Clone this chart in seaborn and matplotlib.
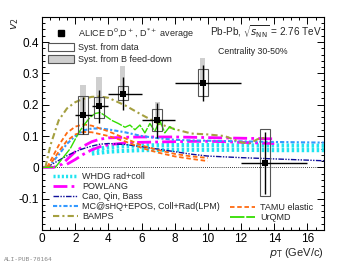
import numpy as np
import matplotlib
matplotlib.use("Agg")
import matplotlib.pyplot as plt
from matplotlib.lines import Line2D
from matplotlib.patches import Patch, Rectangle
import seaborn as sns

# ALICE D-meson average v2, Pb-Pb 30-50%
pt = [2.47, 3.45, 4.86, 6.95, 9.68, 13.47]
pt_lo = [2, 3, 4, 6, 8, 12]
pt_hi = [3, 4, 6, 8, 12, 16]
v2 = [0.166, 0.195, 0.235, 0.150, 0.270, 0.015]
stat = [0.060, 0.052, 0.053, 0.056, 0.058, 0.099]
syst_data_lo = [0.105, 0.158, 0.214, 0.115, 0.228, -0.093]
syst_data_hi = [0.227, 0.224, 0.259, 0.187, 0.314, 0.124]
syst_feed_hi = [0.263, 0.288, 0.325, 0.209, 0.350, 0.015]

# model curves
whdg_x = [3, 4, 5, 6, 8, 10, 12, 14, 17]
whdg_hi = [0.056, 0.064, 0.068, 0.070, 0.071, 0.071, 0.070, 0.070, 0.069]
whdg_lo = [0.044, 0.050, 0.053, 0.055, 0.056, 0.056, 0.056, 0.055, 0.055]

powlang1_x = [0, 0.7, 1.2, 1.6, 2, 2.5, 3, 3.5, 4, 5, 6, 7, 8, 9, 10, 11, 12, 13, 14]
powlang1_y = [0, 0, 0.010, 0.030, 0.050, 0.068, 0.082, 0.090, 0.094, 0.096, 0.097,
              0.097, 0.097, 0.096, 0.095, 0.094, 0.093, 0.092, 0.091]
powlang2_x = [1.5, 2, 2.5, 3, 3.5, 4, 5, 6, 7, 8, 9, 10, 11, 12, 13, 14]
powlang2_y = [0.010, 0.025, 0.042, 0.056, 0.066, 0.072, 0.078, 0.080, 0.081, 0.082,
              0.083, 0.083, 0.082, 0.080, 0.078, 0.076]

cao_x = [0.3, 0.6, 1, 1.5, 2, 2.5, 3, 3.5, 4, 5, 6, 7, 8, 9, 10, 12, 14, 17]
cao_y = [0, 0.010, 0.022, 0.037, 0.050, 0.060, 0.068, 0.074, 0.076, 0.073, 0.066,
         0.058, 0.050, 0.042, 0.036, 0.031, 0.027, 0.021]

mcshq_x = [0.3, 0.6, 1, 1.5, 2, 2.5, 3, 3.5, 4, 5, 6, 7, 8, 9, 10, 12, 14, 17]
mcshq_y = [0, 0.015, 0.040, 0.075, 0.100, 0.118, 0.124, 0.124, 0.121, 0.112, 0.100,
           0.093, 0.088, 0.086, 0.085, 0.083, 0.081, 0.079]

bamps_x = [0.2, 0.5, 1, 1.5, 2, 2.5, 3, 3.5, 4, 5, 6, 7, 8, 9, 10, 11, 11.5, 12,
           12.5, 13, 13.5]
bamps_y = [0, 0.070, 0.150, 0.188, 0.208, 0.219, 0.225, 0.226, 0.222, 0.198, 0.168,
           0.140, 0.122, 0.108, 0.105, 0.100, 0.090, 0.080, 0.076, 0.090, 0.095]

tamu1_x = [0.3, 0.5, 1, 1.5, 2, 2.5, 3, 4, 5, 6, 7, 8, 9, 10]
tamu1_y = [0, 0.020, 0.070, 0.110, 0.130, 0.137, 0.133, 0.115, 0.093, 0.070, 0.055,
           0.043, 0.035, 0.030]
tamu2_y = [0, 0.010, 0.050, 0.085, 0.105, 0.113, 0.112, 0.100, 0.083, 0.062, 0.047,
           0.035, 0.027, 0.020]

urqmd_x = [0, 0.8, 1.1, 1.7, 2.0, 2.3, 2.6, 2.9, 3.2, 3.5, 3.8, 4.2, 4.6, 5.0, 5.3,
           5.6, 5.9, 6.2, 6.5, 6.8, 7.1, 7.4, 7.7, 8.0]
urqmd_y = [0, 0, 0.020, 0.060, 0.090, 0.118, 0.140, 0.160, 0.172, 0.175, 0.165, 0.150,
           0.140, 0.128, 0.135, 0.120, 0.135, 0.110, 0.140, 0.115, 0.150, 0.110, 0.130,
           0.120]

C_WHDG = "#20e4f0"
C_POW = "#ff00ff"
C_CAO = "#10109a"
C_MC = "#3399ff"
C_BAMPS = "#a5a040"
C_TAMU = "#ff6a10"
C_URQMD = "#33dd00"

LS_POW = (0, (5, 1.5, 1, 1.5))
LS_CAO = (0, (4, 1, 1, 1, 1, 1))
LS_MC = (0, (2, 1, 1, 1))
LS_BAMPS = (0, (3, 1.5, 1, 1.5))
LS_TAMU = (0, (2.5, 1.5))
LS_URQMD = (0, (8, 1))

sns.set_theme(style="ticks")
plt.rcParams["font.family"] = ["Liberation Sans", "DejaVu Sans"]

fig = plt.figure(figsize=(3.45, 2.65), dpi=100)
ax = fig.add_axes([0.122, 0.132, 0.817, 0.804])

# systematic boxes: feed-down (grey, upward) and data (open)
for x, y, fh in zip(pt, v2, syst_feed_hi):
    if fh > y + 0.005:
        ax.add_patch(Rectangle((x - 0.17, y), 0.34, fh - y,
                               facecolor="#cfcfcf", edgecolor="none", zorder=1))
for x, lo, hi in zip(pt, syst_data_lo, syst_data_hi):
    ax.add_patch(Rectangle((x - 0.3, lo), 0.6, hi - lo, facecolor="none",
                           edgecolor="#555555", lw=0.8, zorder=4))

ax.axhline(0, color="black", lw=0.6, ls=(0, (1, 1.5)), zorder=0)

# model curves
for yy in (whdg_hi, whdg_lo):
    sns.lineplot(x=whdg_x, y=yy, ax=ax, color=C_WHDG, lw=3, linestyle=(0, (0.6, 0.6)),
                 sort=False, estimator=None, zorder=2)
sns.lineplot(x=powlang1_x, y=powlang1_y, ax=ax, color=C_POW, lw=2, linestyle=LS_POW,
             sort=False, estimator=None, zorder=2)
sns.lineplot(x=powlang2_x, y=powlang2_y, ax=ax, color=C_POW, lw=2, linestyle=LS_POW,
             sort=False, estimator=None, zorder=2)
sns.lineplot(x=cao_x, y=cao_y, ax=ax, color=C_CAO, lw=1, linestyle=LS_CAO,
             sort=False, estimator=None, zorder=2)
sns.lineplot(x=mcshq_x, y=mcshq_y, ax=ax, color=C_MC, lw=1.5, linestyle=LS_MC,
             sort=False, estimator=None, zorder=2)
sns.lineplot(x=bamps_x, y=bamps_y, ax=ax, color=C_BAMPS, lw=1.5, linestyle=LS_BAMPS,
             sort=False, estimator=None, zorder=2)
sns.lineplot(x=tamu1_x, y=tamu1_y, ax=ax, color=C_TAMU, lw=1.3, linestyle=LS_TAMU,
             sort=False, estimator=None, zorder=2)
sns.lineplot(x=tamu1_x, y=tamu2_y, ax=ax, color=C_TAMU, lw=1.3, linestyle=LS_TAMU,
             sort=False, estimator=None, zorder=2)
sns.lineplot(x=urqmd_x, y=urqmd_y, ax=ax, color=C_URQMD, lw=1, linestyle=LS_URQMD,
             sort=False, estimator=None, zorder=2)

# data points
xerr = [np.array(pt) - np.array(pt_lo), np.array(pt_hi) - np.array(pt)]
ax.errorbar(pt, v2, xerr=xerr, yerr=stat, fmt="none", ecolor="black", elinewidth=1,
            capsize=0, zorder=5)
sns.scatterplot(x=pt, y=v2, ax=ax, marker="s", color="black", s=18, linewidth=0,
                zorder=6)

ax.set_xlim(0, 17)
ax.set_ylim(-0.2, 0.48)
ax.set_xticks(np.arange(0, 17, 2))
ax.set_xticks(np.arange(0, 17.01, 0.5), minor=True)
ax.set_yticks([-0.1, 0, 0.1, 0.2, 0.3, 0.4])
ax.set_yticklabels(["-0.1", "0", "0.1", "0.2", "0.3", "0.4"])
ax.set_yticks(np.arange(-0.2, 0.481, 0.02), minor=True)
ax.tick_params(which="both", direction="in", top=True, right=True, labelsize=8.5,
               width=0.7, pad=2, colors="black")
ax.tick_params(which="major", length=5)
ax.tick_params(which="minor", length=2.5)
for s in ax.spines.values():
    s.set_linewidth(0.8)
    s.set_color("black")
ax.set_xlabel("")
ax.set_ylabel("")

fig.text(0.045, 0.935, r"$v_2$", rotation=90, fontsize=8, ha="center", va="top")
fig.text(0.939, 0.02, r"$p_{\rm T}$ (GeV/c)", fontsize=8, ha="right", va="bottom")
fig.text(0.012, 0.015, "ALI-PUB-70164", fontsize=4.5, color="#888888",
         family="DejaVu Sans Mono")

ax.text(16.85, 0.432, r"Pb-Pb, $\sqrt{s_{\rm NN}}$ = 2.76 TeV", fontsize=7.2,
        ha="right", va="center")
ax.text(12.7, 0.369, "Centrality 30-50%", fontsize=6.3, ha="center", va="center")

# legends
data_handles = [
    Line2D([], [], marker="s", color="black", ls="none", ms=4),
    Patch(facecolor="white", edgecolor="#555555", lw=0.8),
    Patch(facecolor="#cfcfcf", edgecolor="#555555", lw=0.8),
]
data_labels = [r"ALICE D$^0$,D$^+$, D$^{*+}$ average", "Syst. from data",
               "Syst. from B feed-down"]
leg1 = ax.legend(data_handles, data_labels, loc="upper left", bbox_to_anchor=(0.0, 0.985),
                 fontsize=6.5, frameon=False, handlelength=2.8, handleheight=1.0,
                 labelspacing=0.25, handletextpad=0.5, borderpad=0.2)
ax.add_artist(leg1)

model_handles = [
    Line2D([], [], color=C_WHDG, lw=2.5, ls=(0, (0.6, 0.6))),
    Line2D([], [], color=C_POW, lw=2, ls=LS_POW),
    Line2D([], [], color=C_CAO, lw=1, ls=LS_CAO),
    Line2D([], [], color=C_MC, lw=1.5, ls=LS_MC),
    Line2D([], [], color=C_BAMPS, lw=1.5, ls=LS_BAMPS),
]
model_labels = ["WHDG rad+coll", "POWLANG", "Cao, Qin, Bass",
                "MC@sHQ+EPOS, Coll+Rad(LPM)", "BAMPS"]
leg2 = ax.legend(model_handles, model_labels, loc="upper left",
                 bbox_to_anchor=(0.015, 0.30), fontsize=6.5, frameon=False,
                 handlelength=2.8, labelspacing=0.1, handletextpad=0.5, borderpad=0.2)
ax.add_artist(leg2)

leg3 = ax.legend([Line2D([], [], color=C_TAMU, lw=1.3, ls=LS_TAMU),
                  Line2D([], [], color=C_URQMD, lw=1.3, ls=LS_URQMD)],
                 ["TAMU elastic", "UrQMD"], loc="upper left",
                 bbox_to_anchor=(0.645, 0.155), fontsize=6.5, frameon=False,
                 handlelength=2.8, labelspacing=0.1, handletextpad=0.5, borderpad=0.2)

fig.savefig("out.png", dpi=100)
